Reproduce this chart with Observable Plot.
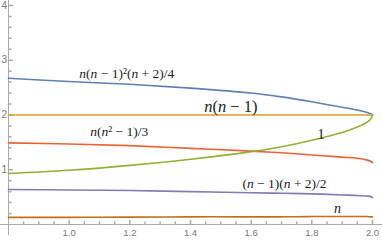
<!DOCTYPE html>
<html>
<head>
<meta charset="utf-8">
<script src="https://cdn.jsdelivr.net/npm/d3@7"></script>
<script src="https://cdn.jsdelivr.net/npm/@observablehq/plot@0.6"></script>
<style>
  html, body { margin: 0; padding: 0; background: #fff; }
  svg { display: block; }
</style>
</head>
<body>
<div id="chart"></div>
<script>
// x samples shared by every series
const xs = [0.8, 1.0, 1.2, 1.4, 1.6, 1.7, 1.8, 1.9, 1.95, 1.98, 1.995, 2.0];
// series values
const blueVals   = [2.67, 2.61, 2.56, 2.49, 2.40, 2.33, 2.24, 2.14, 2.09, 2.05, 2.02, 2.00]; // n(n-1)^2(n+2)/4
const orangeVals = [2.00, 2.00, 2.00, 2.00, 2.00, 2.00, 2.00, 2.00, 2.00, 2.00, 2.00, 2.00]; // n(n-1)
const redVals    = [1.49, 1.47, 1.44, 1.39, 1.34, 1.31, 1.27, 1.23, 1.21, 1.18, 1.15, 1.13]; // n(n^2-1)/3
const greenVals  = [0.93, 0.99, 1.08, 1.19, 1.33, 1.42, 1.54, 1.68, 1.78, 1.86, 1.93, 2.00]; // 1
const purpleVals = [0.64, 0.63, 0.62, 0.60, 0.58, 0.57, 0.56, 0.54, 0.53, 0.52, 0.51, 0.49]; // (n-1)(n+2)/2
const nVals      = [0.13, 0.13, 0.135, 0.14, 0.14, 0.14, 0.145, 0.145, 0.145, 0.145, 0.14, 0.14]; // n

const seriesNames  = ["blue", "orange", "red", "green", "purple", "n"];
const seriesColors = ["#5E81B5", "#E19C24", "#EB6235", "#8FB032", "#8778B3", "#C56E1A"];
const seriesValues = [blueVals, orangeVals, redVals, greenVals, purpleVals, nVals];

// curve labels
const labelTexts = ["n(n − 1)²(n + 2)/4", "n(n − 1)", "n(n² − 1)/3", "1", "(n − 1)(n + 2)/2", "n"];
const labelX     = [1.19, 1.533, 1.165, 1.83, 1.71, 1.885];
const labelY     = [2.76, 2.15, 1.69, 1.65, 0.75, 0.29];
const labelSize  = [13.5, 16.5, 13.5, 15, 13.5, 14];

// ticks
const xMajor = [1.0, 1.2, 1.4, 1.6, 1.8, 2.0];
const xMinor = d3.range(0.85, 2.001, 0.05).filter(v => Math.abs(v * 5 - Math.round(v * 5)) > 1e-6);
const yMajor = [1, 2, 3, 4];
const yMinor = d3.range(0.2, 4.09, 0.2).filter(v => Math.abs(v - Math.round(v)) > 1e-6);

const rows = [];
seriesNames.forEach((s, i) => xs.forEach((x, j) => rows.push({series: s, x, y: seriesValues[i][j]})));
const labels = labelTexts.map((t, i) => ({t, x: labelX[i], y: labelY[i], size: labelSize[i]}));

const tickShape = {draw(ctx, l) { ctx.moveTo(0, 0); ctx.lineTo(0, -l); }};
const axisColor = "#aaaaaa";

const chart = Plot.plot({
  width: 382,
  height: 240,
  marginLeft: 8,
  marginRight: 0,
  marginTop: 0,
  marginBottom: 16,
  x: {domain: [0.8, 2.033]},
  y: {domain: [0, 4.09], axis: null},
  color: {domain: seriesNames, range: seriesColors},
  style: {fontFamily: "'Liberation Sans', sans-serif", background: "#fff"},
  marks: [
    // axis lines
    Plot.ruleY([0], {stroke: axisColor, x1: 0.774, x2: 2.033}),
    Plot.ruleX([0.8], {stroke: axisColor, y1: -0.2, y2: 4.09}),
    // ticks
    Plot.vector(xMajor, {x: d => d, frameAnchor: "bottom", length: 4, anchor: "start", shape: tickShape, stroke: axisColor}),
    Plot.vector(xMinor, {x: d => d, frameAnchor: "bottom", length: 2.5, anchor: "start", shape: tickShape, stroke: axisColor}),
    Plot.vector(yMajor, {y: d => d, frameAnchor: "left", length: 4, rotate: 90, anchor: "start", shape: tickShape, stroke: axisColor}),
    Plot.vector(yMinor, {y: d => d, frameAnchor: "left", length: 2.5, rotate: 90, anchor: "start", shape: tickShape, stroke: axisColor}),
    // tick labels
    Plot.axisX(xMajor, {tickSize: 0, tickPadding: 5, tickFormat: d3.format(".1f"), fontSize: 9.5, color: "#777", label: null}),
    Plot.text(yMajor, {y: d => d, text: d => String(d), frameAnchor: "left", textAnchor: "start", dx: -7, fontSize: 10, fill: "#777"}),
    // curves
    Plot.line(rows, {x: "x", y: "y", z: "series", stroke: "series", strokeWidth: 1.6, curve: "catmull-rom"}),
    // labels
    Plot.text(labels, {x: "x", y: "y", text: "t", fontSize: "size", fill: "#222",
      fontFamily: "'Liberation Serif', serif", className: "lbl"})
  ]
});

// italic n in the labels, TraditionalForm-like
chart.querySelectorAll("g.lbl text").forEach(el => {
  const s = el.textContent;
  el.textContent = "";
  let buf = "";
  const flush = (italic) => {
    if (!buf) return;
    const t = document.createElementNS("http://www.w3.org/2000/svg", "tspan");
    if (italic) t.setAttribute("font-style", "italic");
    t.textContent = buf;
    el.appendChild(t);
    buf = "";
  };
  for (const ch of s) {
    if (ch === "n") { flush(false); buf = "n"; flush(true); }
    else buf += ch;
  }
  flush(false);
});

document.getElementById("chart").appendChild(chart);
</script>
</body>
</html>
